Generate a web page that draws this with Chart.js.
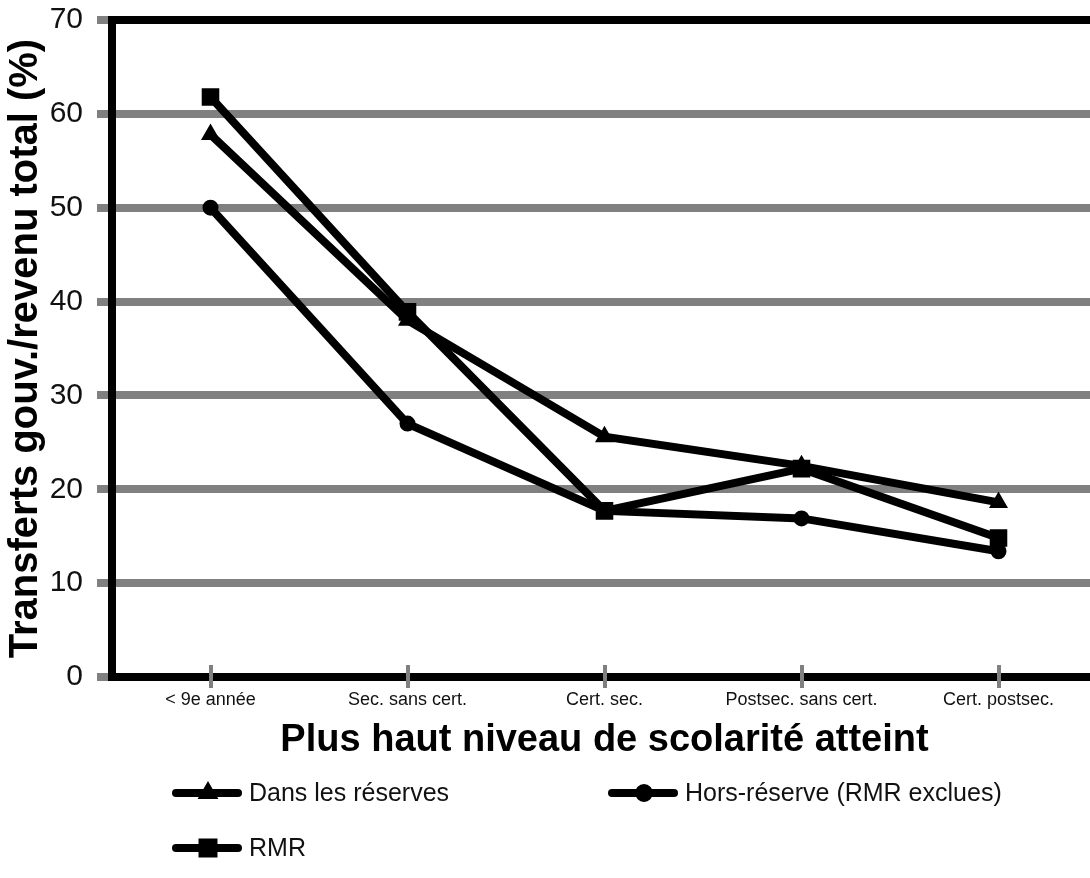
<!DOCTYPE html>
<html>
<head>
<meta charset="utf-8">
<script src="https://cdn.jsdelivr.net/npm/chart.js@4"></script>
<style>
  html, body { margin: 0; padding: 0; background: #fff; overflow: hidden; }
  #wrap { width: 1090px; height: 878px; overflow: hidden; }
</style>
</head>
<body>
<div id="wrap"><canvas id="chart" width="1110" height="878"></canvas></div>
<script>
const categories = ['< 9e année', 'Sec. sans cert.', 'Cert. sec.', 'Postsec. sans cert.', 'Cert. postsec.'];
const dansReserves = [57.8, 38.0, 25.6, 22.5, 18.6];
const horsReserve = [50.0, 27.0, 17.7, 16.9, 13.4];
const rmr = [61.8, 38.9, 17.7, 22.2, 14.8];
const yMin = 0, yMax = 70, yStep = 10;

const FONT = "'Liberation Sans', Arial, sans-serif";

// small gray tick marks crossing the x axis
const xTickMarks = {
  id: 'xTickMarks',
  afterDatasetsDraw(chart) {
    const { ctx, scales: { x }, chartArea } = chart;
    ctx.save();
    ctx.strokeStyle = '#808080';
    ctx.lineWidth = 4;
    x.ticks.forEach((t, i) => {
      const px = Math.round(x.getPixelForTick(i));
      ctx.beginPath();
      ctx.moveTo(px, chartArea.bottom - 12);
      ctx.lineTo(px, chartArea.bottom + 11);
      ctx.stroke();
    });
    ctx.restore();
  }
};

// legend laid out in two columns like the original
const gridLegend = {
  id: 'gridLegend',
  afterDraw(chart, args, opts) {
    const { ctx } = chart;
    ctx.save();
    chart.data.datasets.forEach((ds, i) => {
      const pos = opts.slots[i];
      ctx.strokeStyle = '#000';
      ctx.lineWidth = 8;
      ctx.lineCap = 'round';
      ctx.beginPath();
      ctx.moveTo(pos.x, pos.y);
      ctx.lineTo(pos.x + 62, pos.y);
      ctx.stroke();
      ctx.fillStyle = '#000';
      ctx.lineWidth = 2;
      Chart.helpers.drawPoint(ctx, {
        pointStyle: ds.pointStyle, radius: ds.pointRadius + 1, borderWidth: 2
      }, pos.x + 32, pos.y);
      ctx.font = '25px ' + FONT;
      ctx.fillStyle = '#111';
      ctx.textBaseline = 'middle';
      ctx.textAlign = 'left';
      ctx.fillText(ds.label, pos.x + 73, pos.y + 1);
    });
    ctx.restore();
  }
};

const lineStyle = (label, data, style, r) => ({
  label, data,
  borderColor: '#000',
  backgroundColor: '#000',
  borderWidth: 8,
  pointStyle: style,
  pointRadius: r,
  pointHoverRadius: r,
  pointBackgroundColor: '#000',
  pointBorderColor: '#000',
  pointBorderWidth: 2,
  tension: 0
});

new Chart(document.getElementById('chart'), {
  type: 'line',
  data: {
    labels: categories,
    datasets: [
      lineStyle('Dans les réserves', dansReserves, 'triangle', 9),
      lineStyle('Hors-réserve (RMR exclues)', horsReserve, 'circle', 7),
      lineStyle('RMR', rmr, 'rect', 11)
    ]
  },
  options: {
    responsive: false,
    animation: false,
    layout: { padding: { top: 20, right: 4, bottom: 115, left: 0 } },
    plugins: {
      legend: { display: false },
      tooltip: { enabled: false },
      gridLegend: {
        slots: [{ x: 176, y: 793 }, { x: 612, y: 793 }, { x: 176, y: 848 }]
      }
    },
    scales: {
      x: {
        offset: true,
        grid: { display: false },
        border: { display: true, color: '#000', width: 8 },
        ticks: { color: '#111', font: { family: FONT, size: 18 }, padding: 4, maxRotation: 0 },
        title: {
          display: true,
          text: 'Plus haut niveau de scolarité atteint',
          color: '#000',
          font: { family: FONT, size: 38, weight: 'bold' },
          padding: { top: 0, bottom: 0 }
        },
        afterFit: s => { s.height = 86; }
      },
      y: {
        min: yMin, max: yMax,
        ticks: { stepSize: yStep, color: '#111', font: { family: FONT, size: 30 }, padding: 14 },
        grid: {
          color: c => (c.tick.value === yMax || c.tick.value === yMin) ? '#000' : '#808080',
          tickColor: '#808080',
          lineWidth: 8,
          tickLength: 15
        },
        border: { display: true, color: '#000', width: 8 },
        title: {
          display: true,
          text: 'Transferts gouv./revenu total (%)',
          color: '#000',
          font: { family: FONT, size: 40, weight: 'bold' },
          padding: { top: 2, bottom: 0 }
        },
        afterFit: s => { s.width = 112; s.paddingTop = 0; s.paddingBottom = 0; }
      }
    }
  },
  plugins: [xTickMarks, gridLegend]
});
</script>
</body>
</html>
